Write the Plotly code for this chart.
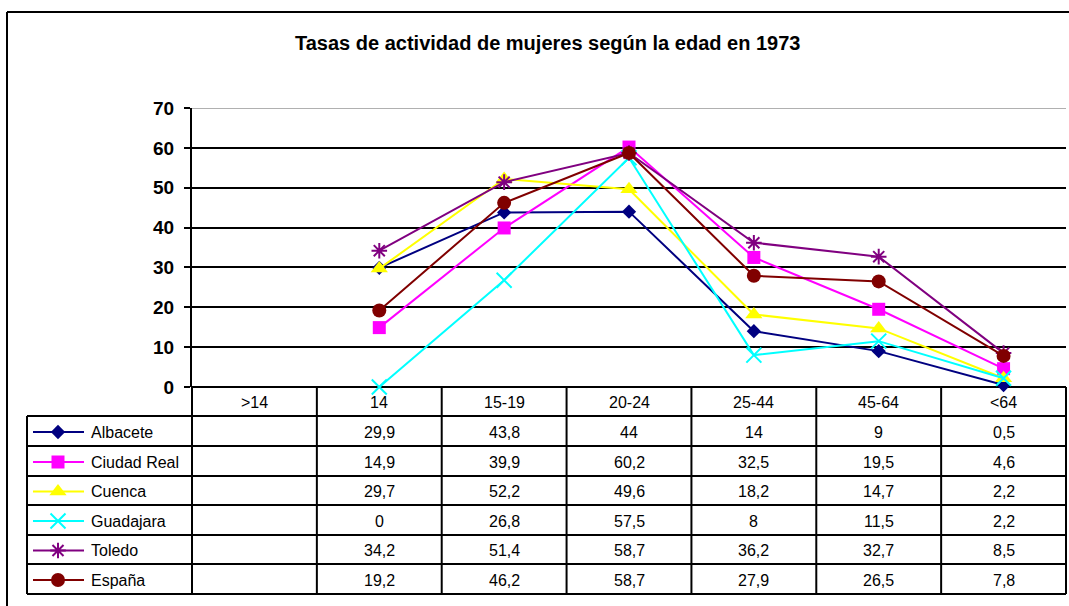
import plotly.graph_objects as go

W, H = 1069, 606

categories = [">14", "14", "15-19", "20-24", "25-44", "45-64", "<64"]
series_names = ["Albacete", "Ciudad Real", "Cuenca", "Guadajara", "Toledo", "España"]
albacete = [None, 29.9, 43.8, 44, 14, 9, 0.5]
ciudad_real = [None, 14.9, 39.9, 60.2, 32.5, 19.5, 4.6]
cuenca = [None, 29.7, 52.2, 49.6, 18.2, 14.7, 2.2]
guadajara = [None, 0, 26.8, 57.5, 8, 11.5, 2.2]
toledo = [None, 34.2, 51.4, 58.7, 36.2, 32.7, 8.5]
espana = [None, 19.2, 46.2, 58.7, 27.9, 26.5, 7.8]
y_ticks = [0, 10, 20, 30, 40, 50, 60, 70]
title_text = "Tasas de actividad de mujeres según la edad en 1973"

values = [albacete, ciudad_real, cuenca, guadajara, toledo, espana]
colors = ["#000080", "#FF00FF", "#FFFF00", "#00FFFF", "#800080", "#800000"]
symbols = ["diamond", "square", "triangle-up", "x-thin-open", "asterisk-open", "circle"]
sizes = [11, 13, 15, 15, 13, 14]

# layout in pixels
PL, PR, PT, PB = 192, 1066, 108, 387
COLW = (PR - PL) / len(categories)
ROW_EDGES = [416, 446, 476, 505, 535, 564, 594]
LEG_L = 27
FONT = "Arial, Liberation Sans, sans-serif"

fig = go.Figure()

for name, vals, c, s, sz in zip(series_names, values, colors, symbols, sizes):
    open_sym = s.endswith("open")
    fig.add_trace(go.Scatter(
        x=categories, y=vals, name=name, mode="lines+markers",
        line=dict(color=c, width=2),
        marker=dict(symbol=s, size=sz, color=c,
                    line=dict(color=c, width=2 if open_sym else 0)),
        cliponaxis=False, showlegend=False, xaxis="x", yaxis="y",
    ))

shapes = []
annotations = []

def pline(x0, y0, x1, y1, color="black", width=2):
    shapes.append(dict(type="line", xref="x2", yref="y2", x0=x0, y0=y0, x1=x1, y1=y1,
                       line=dict(color=color, width=width), layer="above"))

# outer frame
pline(7, 12, W, 12)
pline(7, 12, 7, H)
# gray top gridline
shapes.append(dict(type="line", xref="paper", yref="y", x0=PL / W, x1=PR / W, y0=70, y1=70,
                   line=dict(color="#B0B0B0", width=2), layer="above"))

# table verticals
for k in range(len(categories) + 1):
    x = PL + k * COLW
    pline(x, PB, x, ROW_EDGES[-1])
pline(LEG_L, ROW_EDGES[0], LEG_L, ROW_EDGES[-1])
# table horizontals
for y in ROW_EDGES:
    pline(LEG_L, y, PR, y)

# header labels
for i, cat in enumerate(categories):
    annotations.append(dict(xref="x", yref="y2", x=i, y=(PB + ROW_EDGES[0]) / 2 + 1,
                            text=cat, showarrow=False, font=dict(family=FONT, size=16, color="black")))

# rows
for r, (name, vals, c, s, sz) in enumerate(zip(series_names, values, colors, symbols, sizes)):
    yc = (ROW_EDGES[r] + ROW_EDGES[r + 1]) / 2 + 1
    open_sym = s.endswith("open")
    fig.add_trace(go.Scatter(x=[33, 84], y=[yc, yc], mode="lines", line=dict(color=c, width=2),
                             xaxis="x2", yaxis="y2", showlegend=False, hoverinfo="skip", cliponaxis=False))
    fig.add_trace(go.Scatter(x=[58], y=[yc], mode="markers",
                             marker=dict(symbol=s, size=sz, color=c,
                                         line=dict(color=c, width=2 if open_sym else 0)),
                             xaxis="x2", yaxis="y2", showlegend=False, hoverinfo="skip", cliponaxis=False))
    annotations.append(dict(xref="x2", yref="y2", x=89, y=yc, xanchor="left", text=name,
                            showarrow=False, font=dict(family=FONT, size=16, color="black")))
    for i, v in enumerate(vals):
        if v is None:
            continue
        txt = f"{v:g}".replace(".", ",")
        annotations.append(dict(xref="x", yref="y2", x=i, y=yc, text=txt, showarrow=False,
                                font=dict(family=FONT, size=16, color="black")))

annotations.append(dict(xref="x2", yref="y2", x=547, y=43, text="<b>" + title_text + "</b>",
                        showarrow=False, font=dict(family=FONT, size=20, color="black")))

fig.update_layout(
    width=W, height=H, margin=dict(l=0, r=0, t=0, b=0, pad=0, autoexpand=False), autosize=False,
    paper_bgcolor="white", plot_bgcolor="rgba(0,0,0,0)",
    xaxis=dict(domain=[PL / W, PR / W], type="category", categoryorder="array",
               categoryarray=categories, range=[-0.5, len(categories) - 0.5], automargin=False,
               showticklabels=False, showgrid=False, zeroline=False, showline=False, ticks=""),
    yaxis=dict(domain=[(H - PB) / H, (H - PT) / H], range=[0, 70], tickvals=y_ticks, automargin=False,
               showgrid=True, gridcolor="black", gridwidth=2,
               zeroline=True, zerolinecolor="black", zerolinewidth=2,
               showline=True, linecolor="black", linewidth=2,
               ticks="outside", ticklen=6, tickwidth=2, tickcolor="black",
               ticklabelstandoff=6,
               tickfont=dict(family=FONT, size=19, color="black", weight="bold")),
    xaxis2=dict(domain=[0, 1], range=[0, W], visible=False, anchor="y2", automargin=False),
    yaxis2=dict(domain=[0, 1], range=[H, 0], visible=False, anchor="x2", automargin=False),
    shapes=shapes, annotations=annotations, hovermode=False,
)

fig.write_html(
    "out.html",
    config={"displayModeBar": False},
    post_script="document.body.style.margin='0';document.body.style.overflow='hidden';",
)
